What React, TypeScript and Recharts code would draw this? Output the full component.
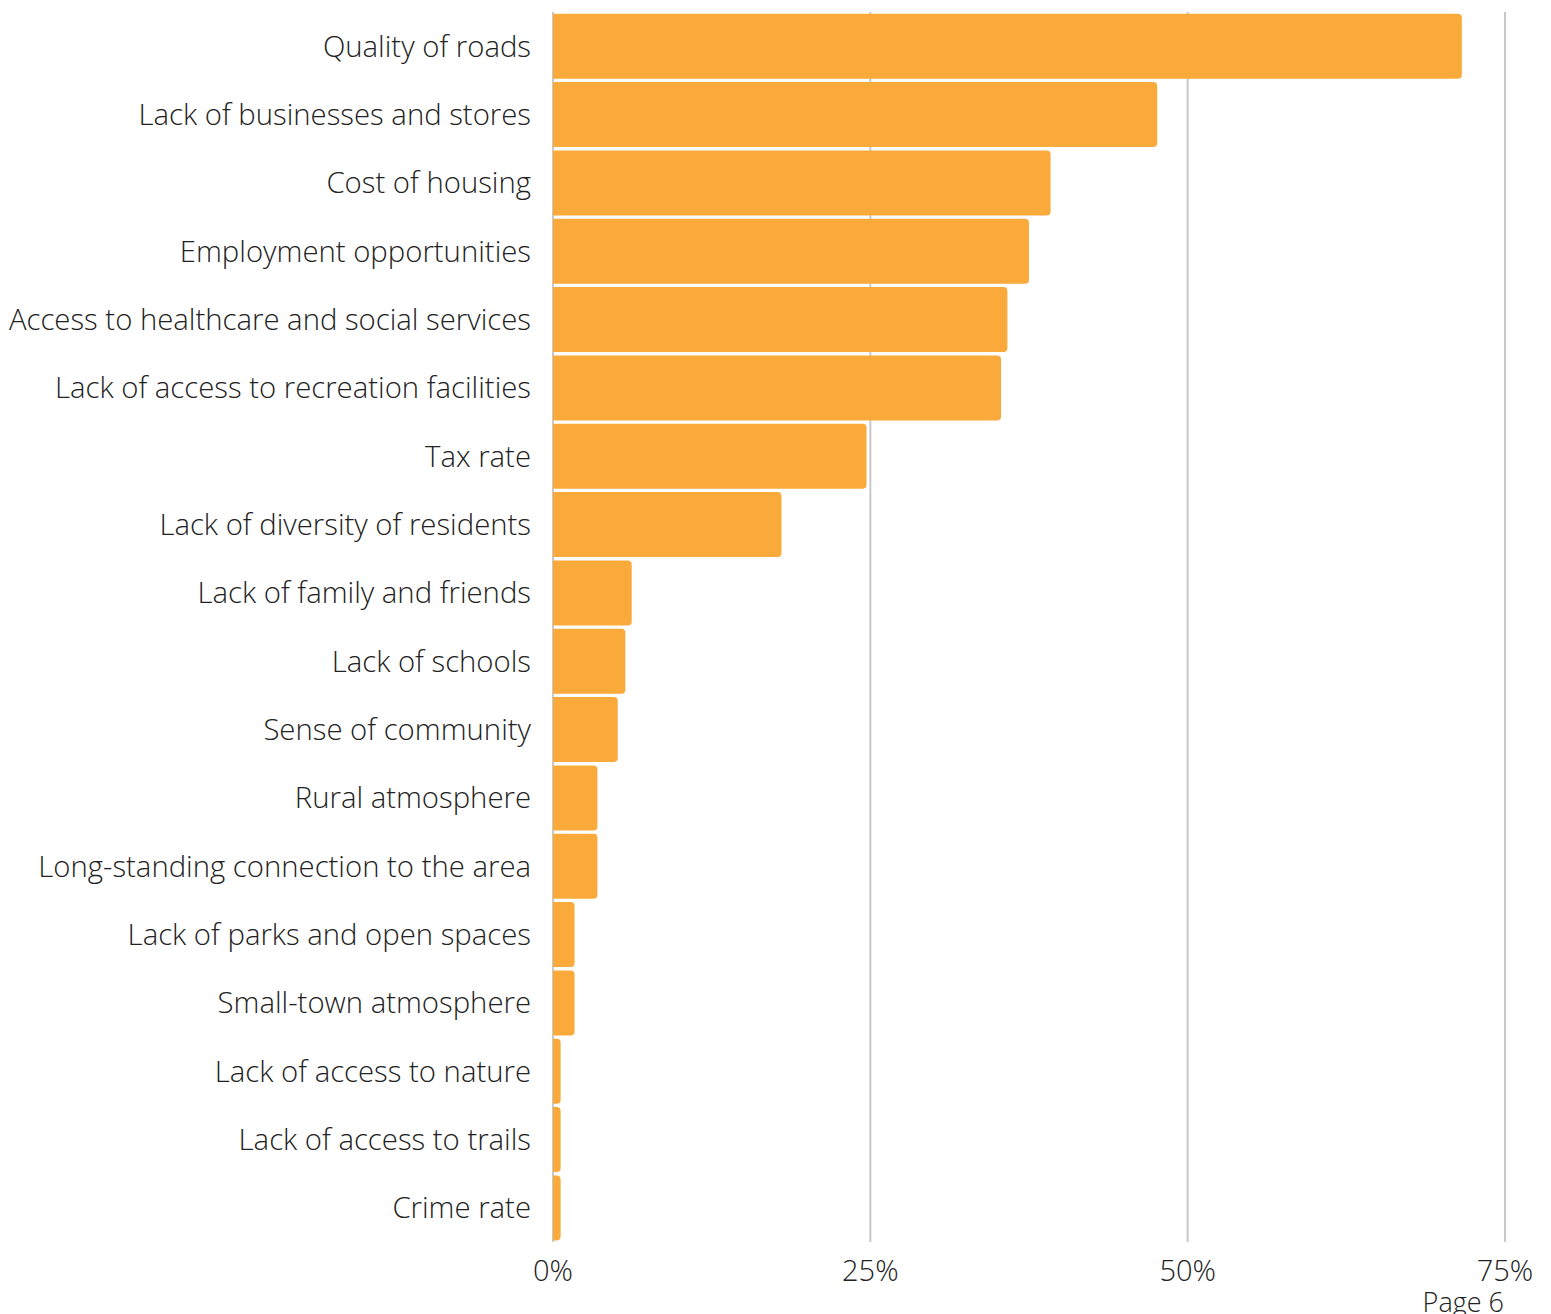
import { BarChart, Bar, XAxis, YAxis, CartesianGrid } from 'recharts';

const categories = [
  'Quality of roads',
  'Lack of businesses and stores',
  'Cost of housing',
  'Employment opportunities',
  'Access to healthcare and social services',
  'Lack of access to recreation facilities',
  'Tax rate',
  'Lack of diversity of residents',
  'Lack of family and friends',
  'Lack of schools',
  'Sense of community',
  'Rural atmosphere',
  'Long-standing connection to the area',
  'Lack of parks and open spaces',
  'Small-town atmosphere',
  'Lack of access to nature',
  'Lack of access to trails',
  'Crime rate',
];

const values = [71.6, 47.6, 39.2, 37.5, 35.8, 35.3, 24.7, 18.0, 6.2, 5.7, 5.1, 3.5, 3.5, 1.7, 1.7, 0.6, 0.6, 0.6];

const xTicks = [0, 25, 50, 75];

const font = "'Open Sans', sans-serif";

export default function App() {
  const chartData = categories.map((name, i) => ({ name, value: values[i] }));

  return (
    <div style={{ position: 'absolute', left: 0, top: 0, width: 1551, height: 1314, background: '#fff' }}>
      <BarChart
        width={1551}
        height={1314}
        data={chartData}
        layout="vertical"
        margin={{ top: 12, right: 46, bottom: 30, left: 0 }}
        barCategoryGap={1.75}
      >
        <CartesianGrid horizontal={false} stroke="#c8c8c8" strokeWidth={2} />
        <XAxis
          type="number"
          domain={[0, 75]}
          ticks={xTicks}
          tickFormatter={(v) => `${v}%`}
          axisLine={false}
          tickLine={false}
          height={42}
          tickMargin={12}
          tick={{ fontSize: 29, fill: '#222', fontFamily: font, fontWeight: 300 }}
        />
        <YAxis
          type="category"
          dataKey="name"
          width={553}
          axisLine={false}
          tickLine={false}
          tickMargin={16}
          interval={0}
          tick={{ fontSize: 29.3, fill: '#222', fontFamily: font, fontWeight: 300 }}
        />
        <Bar dataKey="value" fill="#FAAA3A" radius={[0, 4, 4, 0]} isAnimationActive={false} />
      </BarChart>
      <div
        style={{
          position: 'absolute',
          right: 47,
          top: 1287,
          fontSize: 27,
          fontFamily: font,
          fontWeight: 300,
          color: '#222',
          lineHeight: '30px',
        }}
      >
        Page 6
      </div>
    </div>
  );
}
